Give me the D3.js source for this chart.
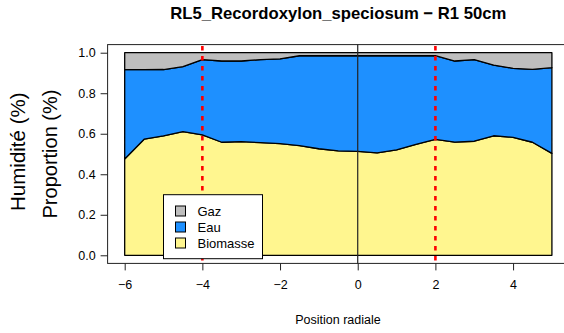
<!DOCTYPE html>
<html>
<head>
<meta charset="utf-8">
<script src="https://cdn.jsdelivr.net/npm/d3@7"></script>
<style>
  html, body { margin: 0; padding: 0; background: #fff; }
  svg { display: block; font-family: "Liberation Sans", Arial, sans-serif; }
</style>
</head>
<body>
<svg id="chart" width="564" height="333"></svg>
<script>
// ---- data ----
const positions = [-6, -5.5, -5, -4.5, -4, -3.5, -3, -2.5, -2, -1.5, -1, -0.5, 0, 0.5, 1, 1.5, 2, 2.5, 3, 3.5, 4, 4.5, 5];
const biomasse = [0.475, 0.573, 0.590, 0.610, 0.594, 0.558, 0.561, 0.556, 0.551, 0.541, 0.526, 0.515, 0.513, 0.506, 0.520, 0.548, 0.572, 0.559, 0.563, 0.590, 0.582, 0.558, 0.503];
const eau      = [0.441, 0.343, 0.327, 0.321, 0.372, 0.401, 0.398, 0.410, 0.419, 0.444, 0.459, 0.470, 0.472, 0.479, 0.465, 0.437, 0.413, 0.400, 0.403, 0.349, 0.341, 0.360, 0.423];
const gaz      = [0.084, 0.084, 0.083, 0.069, 0.034, 0.041, 0.041, 0.034, 0.030, 0.015, 0.015, 0.015, 0.015, 0.015, 0.015, 0.015, 0.015, 0.041, 0.034, 0.061, 0.077, 0.082, 0.074];
const seriesNames = ["Biomasse", "Eau", "Gaz"];
const seriesColors = ["#FFF68F", "#1E90FF", "#BEBEBE"];
const xTicks = [-6, -4, -2, 0, 2, 4];
const yTicks = [0, 0.2, 0.4, 0.6, 0.8, 1.0];
const vLinesRed = [-4, 2];
const vLineBlack = [0];
const title = "RL5_Recordoxylon_speciosum \u2212 R1 50cm";
const xLabel = "Position radiale";
const yLabel1 = "Humidité (%)";
const yLabel2 = "Proportion (%)";

// ---- layout ----
const svg = d3.select("#chart");
const x = d3.scaleLinear().domain([-6.44, 5.44]).range([107.6, 569]);
const y = d3.scaleLinear().domain([-0.04, 1.04]).range([263.4, 44.6]);

const rows = positions.map((p, i) => ({ pos: p, Biomasse: biomasse[i], Eau: eau[i], Gaz: gaz[i] }));
const stack = d3.stack().keys(seriesNames)(rows);

const area = d3.area()
  .x(d => x(d.data.pos))
  .y0(d => y(d[0]))
  .y1(d => y(d[1]));

stack.forEach((s, i) => {
  svg.append("path")
    .datum(s)
    .attr("d", d => area(d))
    .attr("fill", seriesColors[i])
    .attr("stroke", "#000")
    .attr("stroke-width", 1.3)
    .attr("stroke-linejoin", "round");
});

// vertical lines
vLineBlack.forEach(v => {
  svg.append("line")
    .attr("x1", x(v)).attr("x2", x(v))
    .attr("y1", 44.6).attr("y2", 263.4)
    .attr("stroke", "#222").attr("stroke-width", 1.2);
});
vLinesRed.forEach(v => {
  svg.append("line")
    .attr("x1", x(v)).attr("x2", x(v))
    .attr("y1", 46).attr("y2", 263.4)
    .attr("stroke", "#FF0000").attr("stroke-width", 2.6)
    .attr("stroke-dasharray", "4.5 5.5");
});

// box
svg.append("rect")
  .attr("x", 107.6).attr("y", 44.6)
  .attr("width", 569 - 107.6).attr("height", 263.4 - 44.6)
  .attr("fill", "none").attr("stroke", "#222").attr("stroke-width", 1);

// x axis
const xAxis = svg.append("g").attr("transform", "translate(0,263.4)")
  .call(d3.axisBottom(x).tickValues(xTicks).tickSize(7).tickPadding(10)
    .tickFormat(d => d < 0 ? "\u2212" + Math.abs(d) : String(d)));
xAxis.select(".domain").remove();
xAxis.selectAll("line").attr("stroke", "#222");
xAxis.selectAll("text").attr("font-size", 12.5).attr("fill", "#000")
  .attr("font-family", "Liberation Sans, Arial, sans-serif");

// y axis
const yAxis = svg.append("g").attr("transform", "translate(107.6,0)")
  .call(d3.axisLeft(y).tickValues(yTicks).tickSize(7).tickPadding(5)
    .tickFormat(d3.format(".1f")));
yAxis.select(".domain").remove();
yAxis.selectAll("line").attr("stroke", "#222");
yAxis.selectAll("text").attr("font-size", 12.5).attr("fill", "#000")
  .attr("font-family", "Liberation Sans, Arial, sans-serif");

// title
svg.append("text")
  .attr("x", 338.3).attr("y", 19.3)
  .attr("text-anchor", "middle")
  .attr("font-weight", "bold").attr("font-size", 16.7)
  .text(title);

// x label
svg.append("text")
  .attr("x", 338).attr("y", 324)
  .attr("text-anchor", "middle")
  .attr("font-size", 12.5)
  .text(xLabel);

// y labels
svg.append("text")
  .attr("transform", "translate(25,151.7) rotate(-90)")
  .attr("text-anchor", "middle")
  .attr("font-size", 20.5)
  .text(yLabel1);
svg.append("text")
  .attr("transform", "translate(56.5,154) rotate(-90)")
  .attr("text-anchor", "middle")
  .attr("font-size", 20)
  .text(yLabel2);

// legend
const legend = svg.append("g");
legend.append("rect")
  .attr("x", 163.5).attr("y", 194.7)
  .attr("width", 99).attr("height", 64)
  .attr("fill", "#fff").attr("stroke", "#000").attr("stroke-width", 1);
const legendItems = ["Gaz", "Eau", "Biomasse"];
const legendColors = legendItems.map(n => seriesColors[seriesNames.indexOf(n)]);
legendItems.forEach((name, i) => {
  const cy = 211 + i * 16;
  legend.append("rect")
    .attr("x", 175.5).attr("y", cy - 5)
    .attr("width", 10).attr("height", 10)
    .attr("fill", legendColors[i]).attr("stroke", "#000").attr("stroke-width", 1);
  legend.append("text")
    .attr("x", 197.5).attr("y", cy + 4.5)
    .attr("font-size", 13)
    .text(name);
});
</script>
</body>
</html>
